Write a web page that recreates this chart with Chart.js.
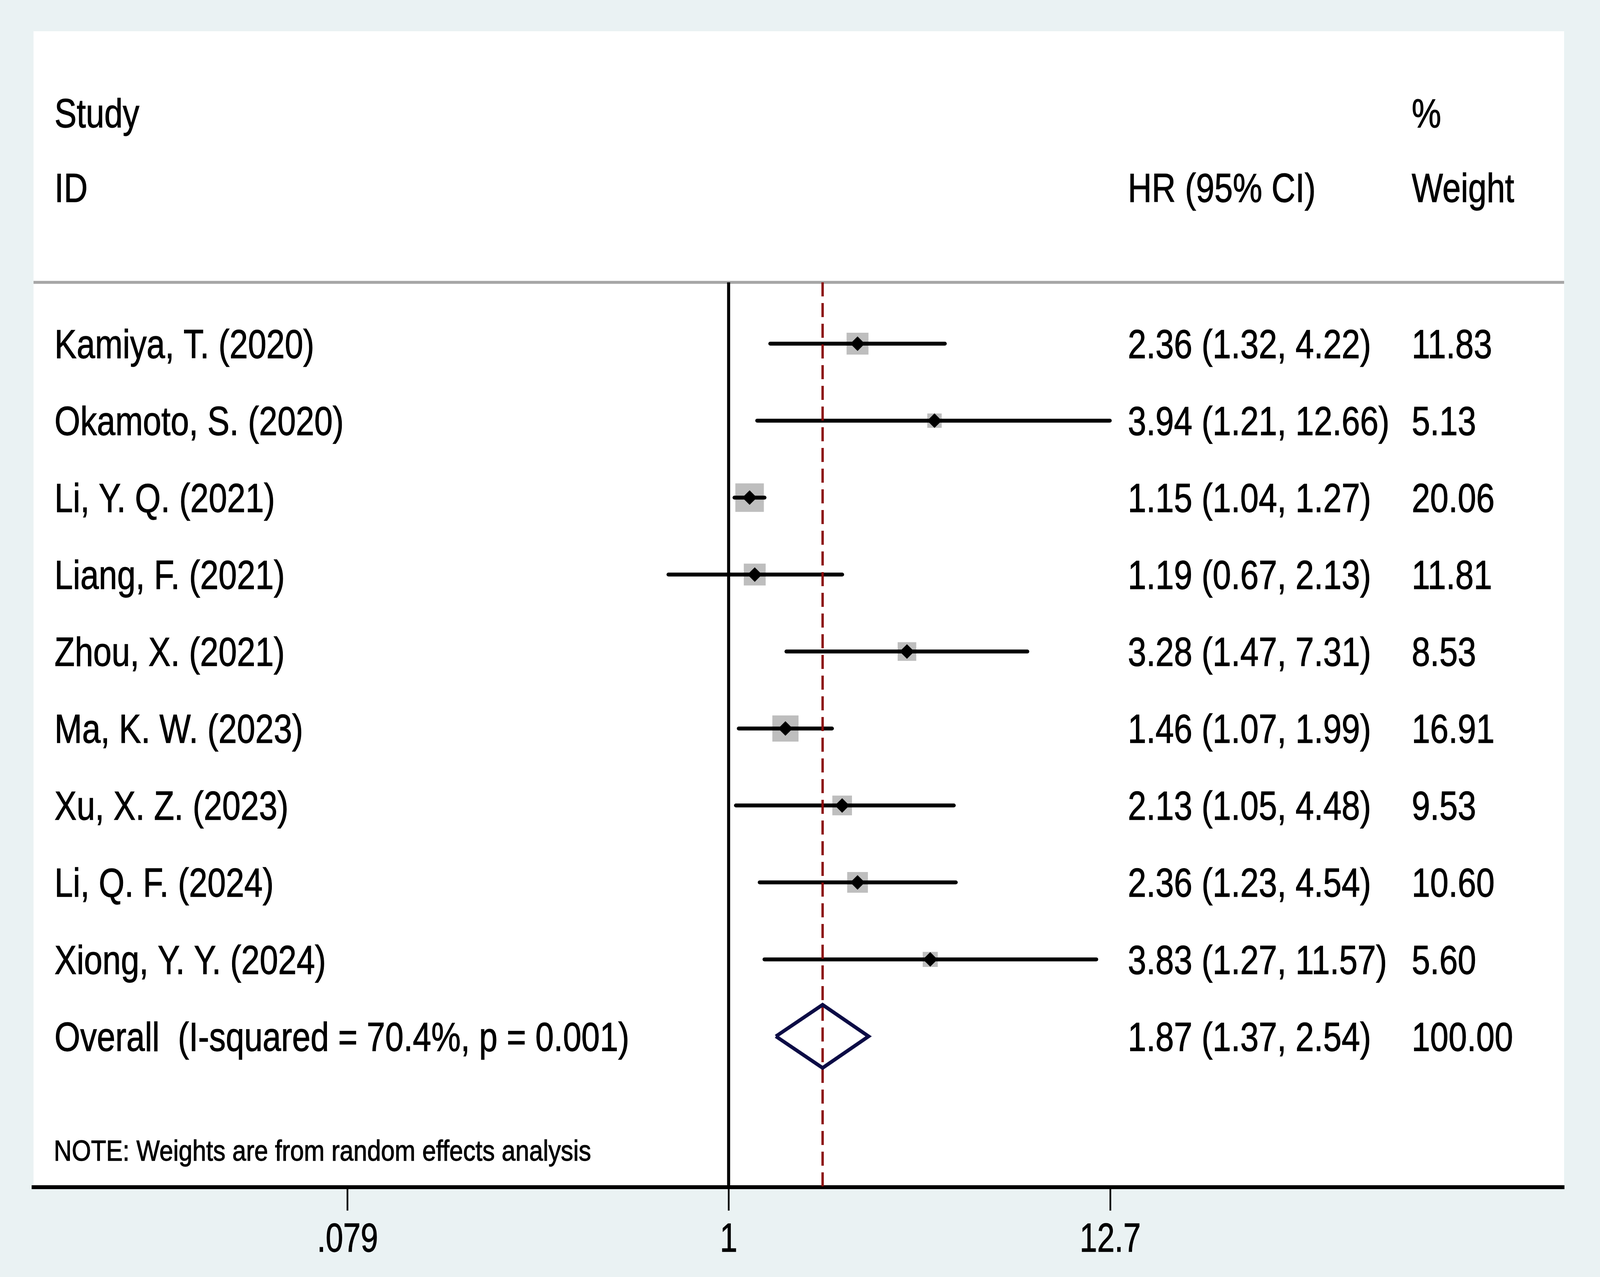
<!DOCTYPE html>
<html>
<head>
<meta charset="utf-8">
<title>Forest plot</title>
<style>
  html, body { margin: 0; padding: 0; background: #eaf2f3; overflow: hidden; }
  #forest { display: block; }
</style>
<script src="https://cdn.jsdelivr.net/npm/chart.js@4.4.1/dist/chart.umd.min.js"></script>
</head>
<body>
<canvas id="forest"></canvas>
<script>
// Study data (HR with 95% CI, random effects weights)
const studyLabels = [
    'Kamiya, T. (2020)', 'Okamoto, S. (2020)', 'Li, Y. Q. (2021)',
    'Liang, F. (2021)', 'Zhou, X. (2021)', 'Ma, K. W. (2023)',
    'Xu, X. Z. (2023)', 'Li, Q. F. (2024)', 'Xiong, Y. Y. (2024)'
];
const hrValues = [2.36, 3.94, 1.15, 1.19, 3.28, 1.46, 2.13, 2.36, 3.83];
const ciLower  = [1.32, 1.21, 1.04, 0.67, 1.47, 1.07, 1.05, 1.23, 1.27];
const ciUpper  = [4.22, 12.66, 1.27, 2.13, 7.31, 1.99, 4.48, 4.54, 11.57];
const weights  = [11.83, 5.13, 20.06, 11.81, 8.53, 16.91, 9.53, 10.60, 5.60];

// Pooled estimate
const overallLabel = 'Overall  (I-squared = 70.4%, p = 0.001)';
const overallHR = 1.87;
const overallCI = [1.37, 2.54];
const overallWeight = 100.00;

// Column headers and footnote
const headerLeft  = ['Study', 'ID'];
const headerMid   = ['', 'HR (95% CI)'];
const headerRight = ['%', 'Weight'];
const noteText = 'NOTE: Weights are from random effects analysis';

// Axis ticks
const xTickValues = [0.079, 1, 12.7];
const xTickLabels = ['.079', '1', '12.7'];

// Layout / style settings, given in reference pixels (4724 x 3270),
// mapped onto whatever viewport the page gets
const REF_W = 4724, REF_H = 3270;
const W = window.innerWidth, H = window.innerHeight;
const KX = W / REF_W, KY = H / REF_H, KS = Math.sqrt(KX * KY);
const px = v => v * KX;
const py = v => v * KY;
const ps = v => v * KS;

const PANEL_TOP = 80;
const PLOT_TOP = 723, PLOT_BOTTOM = 3040, PLOT_LEFT = 99, PLOT_RIGHT = 4618;
const X_RANGE = [0.00976, 261];
const Y_RANGE = [-0.797, 10.96];
const HEADER_ROWS = [-3.0, -2.03];
const NOTE_ROW = 10.48;
const TICK_LABEL_Y = 3168;
const COL_X = [161, 3330, 4168];
const FONT = '"Liberation Sans", Arial, sans-serif';
const TEXT_SIZE = 103, TEXT_SX = 0.95;
const NOTE_SIZE = 75, NOTE_SX = 0.975;
const TICK_SIZE = 103, TICK_SX = 0.9;
const BOX_SCALE = 17.5;           // square side = BOX_SCALE * sqrt(weight)
const DIAMOND_HALF = 0.41;        // pooled diamond half-height in rows

const overallRow = studyLabels.length;

function fmtCI(v, lo, hi) {
    return v.toFixed(2) + ' (' + lo.toFixed(2) + ', ' + hi.toFixed(2) + ')';
}

// Draw text vertically centred on cap height, slightly condensed like Stata output
function drawText(ctx, text, x, yMid, size, sx, align) {
    if (!text) return;
    ctx.save();
    ctx.font = py(size) + 'px ' + FONT;
    ctx.fillStyle = '#000';
    ctx.strokeStyle = '#000';
    ctx.lineWidth = ps(1.5);
    ctx.textBaseline = 'alphabetic';
    ctx.textAlign = align || 'left';
    ctx.translate(x, yMid + 0.358 * py(size));
    ctx.scale(sx * KX / KY, 1);
    ctx.fillText(text, 0, 0);
    ctx.strokeText(text, 0, 0);
    ctx.restore();
}

const panelPlugin = {
    id: 'panel',
    beforeDraw(chart) {
        const { ctx, chartArea } = chart;
        ctx.save();
        ctx.fillStyle = '#eaf2f3';
        ctx.fillRect(0, 0, chart.width, chart.height);
        ctx.fillStyle = '#ffffff';
        ctx.fillRect(chartArea.left, py(PANEL_TOP), chartArea.right - chartArea.left, chartArea.bottom - py(PANEL_TOP));
        // header separator
        ctx.strokeStyle = '#a6a6a6';
        ctx.lineWidth = ps(8);
        ctx.beginPath();
        ctx.moveTo(chartArea.left, chartArea.top);
        ctx.lineTo(chartArea.right, chartArea.top);
        ctx.stroke();
        ctx.restore();
    },
    afterDraw(chart) {
        const { ctx } = chart;
        const y = chart.scales.y;
        const x = chart.scales.x;

        HEADER_ROWS.forEach((r, k) => {
            const yy = y.getPixelForValue(r);
            drawText(ctx, headerLeft[k], px(COL_X[0]), yy, TEXT_SIZE, TEXT_SX);
            drawText(ctx, headerMid[k], px(COL_X[1]), yy, TEXT_SIZE, TEXT_SX);
            drawText(ctx, headerRight[k], px(COL_X[2]), yy, TEXT_SIZE, TEXT_SX);
        });

        studyLabels.forEach((label, i) => {
            const yy = y.getPixelForValue(i);
            drawText(ctx, label, px(COL_X[0]), yy, TEXT_SIZE, TEXT_SX);
            drawText(ctx, fmtCI(hrValues[i], ciLower[i], ciUpper[i]), px(COL_X[1]), yy, TEXT_SIZE, TEXT_SX);
            drawText(ctx, weights[i].toFixed(2), px(COL_X[2]), yy, TEXT_SIZE, TEXT_SX);
        });

        const yo = y.getPixelForValue(overallRow);
        drawText(ctx, overallLabel, px(COL_X[0]), yo, TEXT_SIZE, TEXT_SX);
        drawText(ctx, fmtCI(overallHR, overallCI[0], overallCI[1]), px(COL_X[1]), yo, TEXT_SIZE, TEXT_SX);
        drawText(ctx, overallWeight.toFixed(2), px(COL_X[2]), yo, TEXT_SIZE, TEXT_SX);

        drawText(ctx, noteText, px(COL_X[0] - 2), y.getPixelForValue(NOTE_ROW), NOTE_SIZE, NOTE_SX);

        // tick labels at the axis' own tick positions
        x.ticks.forEach((t, i) => {
            drawText(ctx, xTickLabels[i], x.getPixelForValue(t.value), py(TICK_LABEL_Y), TICK_SIZE, TICK_SX, 'center');
        });
    }
};

function buildDatasets() {
    const points = hrValues.map((v, i) => ({ x: v, y: i }));
    const sets = [];

    // point estimates
    sets.push({
        type: 'scatter', order: 0, data: points,
        pointStyle: 'rectRot', pointRadius: ps(20),
        backgroundColor: '#000', borderWidth: 0
    });

    // pooled diamond
    sets.push({
        type: 'line', order: 1,
        data: [
            { x: overallCI[0], y: overallRow },
            { x: overallHR, y: overallRow - DIAMOND_HALF },
            { x: overallCI[1], y: overallRow },
            { x: overallHR, y: overallRow + DIAMOND_HALF },
            { x: overallCI[0], y: overallRow }
        ],
        borderColor: '#0b0b45', borderWidth: ps(10), borderJoinStyle: 'miter',
        pointRadius: 0, fill: false, tension: 0
    });

    // pooled estimate reference line
    sets.push({
        type: 'line', order: 2,
        data: [{ x: overallHR, y: Y_RANGE[0] }, { x: overallHR, y: Y_RANGE[1] }],
        borderColor: '#8b0a0a', borderWidth: px(7), borderDash: [py(36), py(17)],
        pointRadius: 0, fill: false
    });

    // confidence intervals
    hrValues.forEach((v, i) => {
        sets.push({
            type: 'line', order: 3,
            data: [{ x: ciLower[i], y: i }, { x: ciUpper[i], y: i }],
            borderColor: '#000', borderWidth: py(10), borderCapStyle: 'round',
            pointRadius: 0, fill: false
        });
    });

    // weight boxes
    sets.push({
        type: 'scatter', order: 4, data: points,
        pointStyle: 'rect',
        pointRadius: weights.map(w => ps(BOX_SCALE * Math.sqrt(w)) / Math.SQRT2),
        backgroundColor: '#bebebe', borderWidth: 0
    });

    // line of no effect
    sets.push({
        type: 'line', order: 5,
        data: [{ x: 1, y: Y_RANGE[0] }, { x: 1, y: Y_RANGE[1] }],
        borderColor: '#000', borderWidth: px(9), pointRadius: 0, fill: false
    });

    return sets;
}

const canvas = document.getElementById('forest');
canvas.width = W;
canvas.height = H;

const forestChart = new Chart(canvas.getContext('2d'), {
    type: 'scatter',
    data: { datasets: buildDatasets() },
    options: {
        responsive: false,
        animation: false,
        events: [],
        layout: {
            padding: { left: px(PLOT_LEFT), right: W - px(PLOT_RIGHT), top: py(PLOT_TOP), bottom: 0 }
        },
        plugins: {
            legend: { display: false },
            tooltip: { enabled: false }
        },
        scales: {
            x: {
                type: 'logarithmic',
                position: 'bottom',
                min: X_RANGE[0],
                max: X_RANGE[1],
                afterBuildTicks: scale => {
                    scale.ticks = xTickValues.map(v => ({ value: v }));
                },
                afterFit: scale => {
                    scale.height = H - py(PLOT_BOTTOM);
                },
                ticks: { display: false },
                grid: {
                    drawOnChartArea: false,
                    drawTicks: true,
                    tickLength: py(60),
                    tickWidth: px(5),
                    tickColor: '#000'
                },
                border: { display: true, color: '#000', width: py(10) }
            },
            y: {
                type: 'linear',
                reverse: true,
                min: Y_RANGE[0],
                max: Y_RANGE[1],
                display: false
            }
        }
    },
    plugins: [panelPlugin]
});
</script>
</body>
</html>
